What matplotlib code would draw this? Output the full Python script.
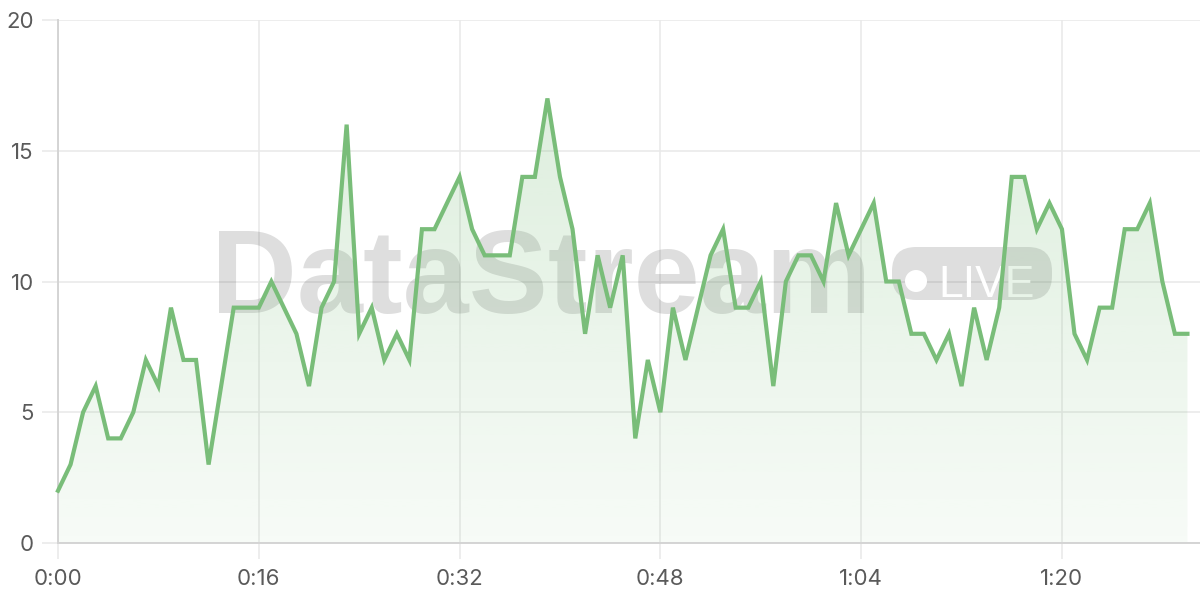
"""Live stream viewers chart with DataStream watermark."""

import numpy as np
import matplotlib
matplotlib.use("Agg")
import matplotlib.pyplot as plt
from matplotlib.patches import FancyBboxPatch, Circle
from matplotlib.colors import to_rgb


LINE_COLOR = "#79bd79"
GRID_COLOR = "#e8e8e8"
SPINE_COLOR = "#d4d4d4"
TEXT_COLOR = "#5a5a5a"

# values, one per time step (0..90)
values = [
    2, 3, 5, 6, 4, 4, 5, 7, 6, 9,
    7, 7, 3, 6, 9, 9, 9, 10, 9, 8,
    6, 9, 10, 16, 8, 9, 7, 8, 7, 12,
    12, 13, 14, 12, 11, 11, 11, 14, 14, 17,
    14, 12, 8, 11, 9, 11, 4, 7, 5, 9,
    7, 9, 11, 12, 9, 9, 10, 6, 10, 11,
    11, 10, 13, 11, 12, 13, 10, 10, 8, 8,
    7, 8, 6, 9, 7, 9, 14, 14, 12, 13,
    12, 8, 7, 9, 9, 12, 12, 13, 10, 8,
    8,
]
x_ticks = [0, 16, 32, 48, 64, 80]
x_tick_labels = ["0:00", "0:16", "0:32", "0:48", "1:04", "1:20"]
y_ticks = [0, 5, 10, 15, 20]

x = np.arange(len(values))
y = np.array(values, dtype=float)

fig = plt.figure(figsize=(12, 6), dpi=100)
fig.patch.set_facecolor("white")
ax = fig.add_axes([58 / 1200, 57 / 600, 1 - 58 / 1200, 523 / 600])
ax.set_facecolor("white")

# grid and spines
ax.set_axisbelow(True)
ax.grid(True, color=GRID_COLOR, linewidth=1.1, zorder=0)
for side in ("top", "right"):
    ax.spines[side].set_visible(False)
ax.spines["left"].set_color(SPINE_COLOR)
ax.spines["bottom"].set_color(SPINE_COLOR)
ax.spines["left"].set_linewidth(1.4)
ax.spines["bottom"].set_linewidth(1.4)

ax.set_xticks(x_ticks)
ax.set_xticklabels(x_tick_labels)
ax.set_yticks(y_ticks)
ax.tick_params(axis="both", length=11.5, width=1.1, color=GRID_COLOR,
               labelcolor=TEXT_COLOR, labelsize=16)
ax.tick_params(axis="y", pad=6)
ax.tick_params(axis="x", pad=7)
for lab in ax.get_xticklabels() + ax.get_yticklabels():
    lab.set_fontfamily(["Inter", "DejaVu Sans"])

# watermark, kept inside the axes so it stays under the line
ax.text(211 / 1200, 1 - 313 / 600, "DataStream", transform=fig.transFigure,
        family="Liberation Sans", weight="bold", fontsize=85.5,
        color="black", alpha=0.13, ha="left", va="baseline", zorder=1)
pill = FancyBboxPatch((8.92, 3.0), 1.6, 0.53,
                      boxstyle="round,pad=0,rounding_size=0.24",
                      transform=fig.dpi_scale_trans, facecolor="black",
                      alpha=0.13, edgecolor="none", zorder=1, clip_on=False)
ax.add_artist(pill)
ax.add_artist(Circle((9.16, 3.19), 0.11, transform=fig.dpi_scale_trans,
                     facecolor="white", edgecolor="none", zorder=1.1,
                     clip_on=False))
ax.text(9.38 / 12, 3.03 / 6, "LIVE", transform=fig.transFigure,
        family="Liberation Sans", fontsize=32, color="white",
        ha="left", va="baseline", zorder=1.1)

# gradient fill under the line
rgb = to_rgb(LINE_COLOR)
top = y.max()
grad = np.zeros((256, 1, 4))
grad[:, :, 0], grad[:, :, 1], grad[:, :, 2] = rgb
grad[:, 0, 3] = np.linspace(0.25, 0.06, 256)
img = ax.imshow(grad, extent=[x[0], x[-1], 0, top], aspect="auto",
                origin="upper", zorder=2, interpolation="bilinear")
poly = ax.fill_between(x, y, 0, facecolor="none", edgecolor="none")
clip = poly.get_paths()[0]
img.set_clip_path(clip, transform=ax.transData)

ax.plot(x, y, color=LINE_COLOR, linewidth=3.0, solid_joinstyle="miter",
        zorder=3, clip_on=False)

ax.set_xlim(0, 91)
ax.set_ylim(0, 20)

fig.savefig("out.png", dpi=100, facecolor="white")
